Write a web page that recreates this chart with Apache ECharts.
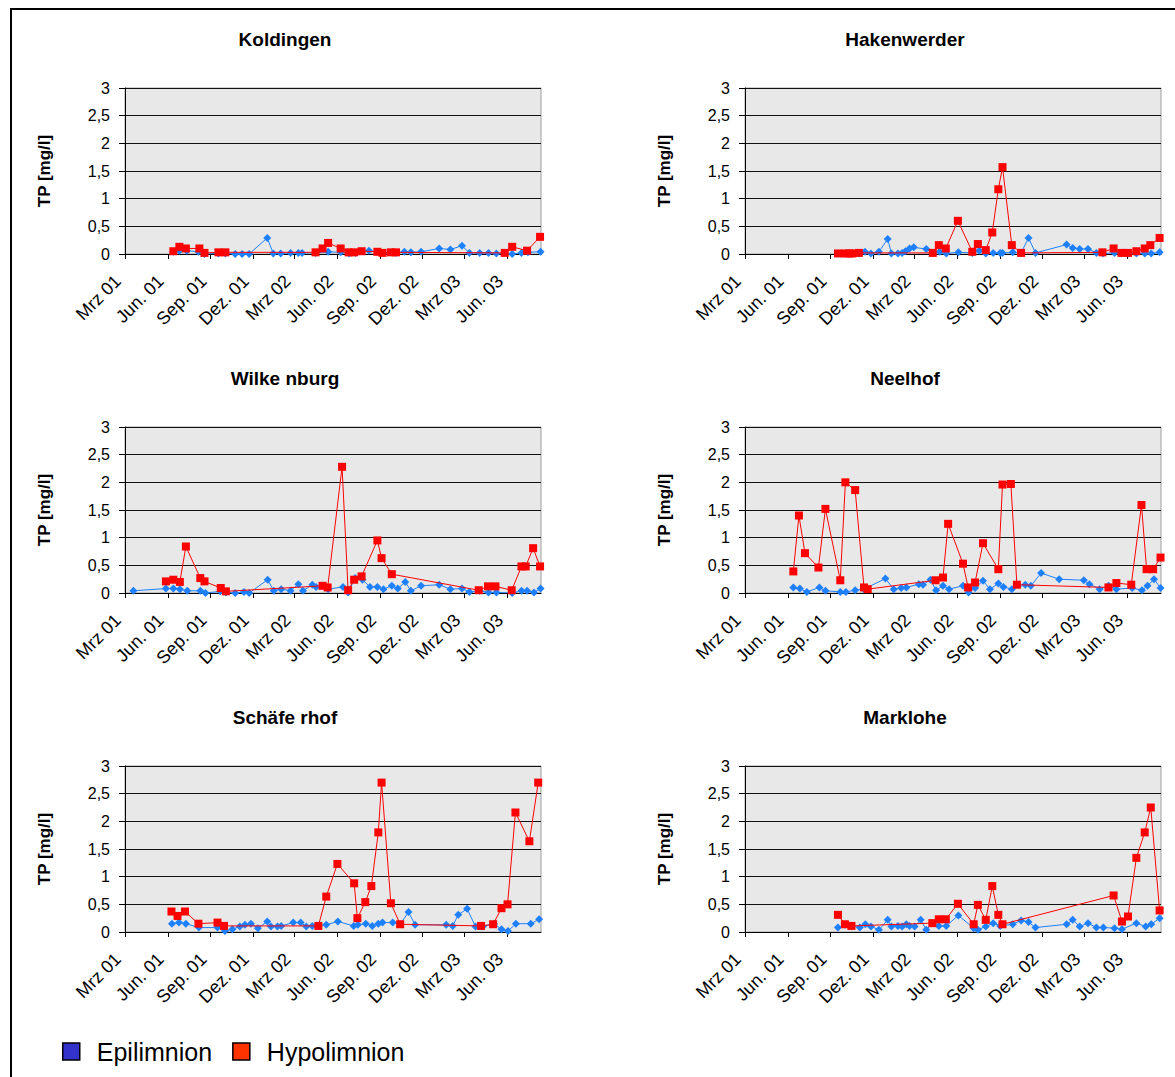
<!DOCTYPE html>
<html>
<head>
<meta charset="utf-8">
<script src="https://cdn.jsdelivr.net/npm/echarts@6/dist/echarts.min.js"></script>
<style>
  html, body { margin: 0; padding: 0; background: #fff; }
  #chart { width: 1175px; height: 1077px; }
</style>
</head>
<body>
<div id="chart"></div>
<script>
// Tick positions on the date axis and their labels
const tickDates = ['2001-03-01', '2001-06-01', '2001-09-01', '2001-12-01', '2002-03-01', '2002-06-01',
  '2002-09-01', '2002-12-01', '2003-03-01', '2003-06-01']
const tickLabels = ['Mrz 01', 'Jun. 01', 'Sep. 01', 'Dez. 01', 'Mrz 02', 'Jun. 02',
  'Sep. 02', 'Dez. 02', 'Mrz 03', 'Jun. 03']
const xMin = '2001-03-01'
const xMax = '2003-08-13'
const yTicks = [0, 0.5, 1, 1.5, 2, 2.5, 3]

// TP [mg/l] per station, [date, value]
const koldingenEpi = [['2001-06-13',0.04],['2001-06-26',0.06],['2001-07-12',0.06],['2001-08-06',0.04],['2001-08-19',0.0],['2001-09-18',0.01],['2001-10-03',0.01],['2001-10-24',0.0],['2001-11-08',0.0],['2001-11-23',0.0],['2002-01-01',0.29],['2002-01-14',0.01],['2002-01-30',0.01],['2002-02-20',0.02],['2002-03-09',0.02],['2002-03-17',0.02],['2002-04-15',0.02],['2002-05-12',0.04],['2002-06-08',0.03],['2002-06-26',0.01],['2002-07-10',0.02],['2002-08-08',0.06],['2002-09-06',0.02],['2002-10-05',0.02],['2002-10-23',0.04],['2002-11-06',0.03],['2002-11-28',0.04],['2003-01-06',0.1],['2003-01-30',0.08],['2003-02-24',0.15],['2003-03-12',0.02],['2003-04-03',0.02],['2003-04-22',0.02],['2003-05-09',0.01],['2003-06-12',0.0],['2003-07-02',0.02],['2003-07-16',0.03],['2003-08-12',0.04]]
const koldingenHypo = [['2001-06-13',0.05],['2001-06-26',0.13],['2001-07-10',0.1],['2001-08-08',0.1],['2001-08-19',0.02],['2001-09-18',0.03],['2001-10-03',0.03],['2002-04-15',0.03],['2002-04-30',0.1],['2002-05-12',0.2],['2002-06-08',0.1],['2002-06-25',0.03],['2002-07-07',0.03],['2002-07-23',0.05],['2002-08-26',0.04],['2002-09-06',0.02],['2002-09-24',0.03],['2002-10-05',0.03],['2003-05-27',0.02],['2003-06-12',0.13],['2003-07-14',0.06],['2003-08-11',0.31]]

const hakenwerderEpi = [['2001-09-17',0.01],['2001-10-02',0.01],['2001-10-18',0.01],['2001-11-01',0.01],['2001-11-14',0.04],['2001-11-27',0.01],['2001-12-14',0.04],['2002-01-02',0.27],['2002-01-10',0.01],['2002-01-24',0.01],['2002-02-02',0.02],['2002-02-09',0.05],['2002-02-18',0.1],['2002-02-27',0.12],['2002-03-26',0.09],['2002-04-09',0.02],['2002-04-24',0.04],['2002-05-08',0.01],['2002-06-03',0.03],['2002-07-03',0.02],['2002-07-18',0.06],['2002-08-01',0.01],['2002-08-17',0.02],['2002-09-01',0.02],['2002-09-06',0.02],['2002-09-28',0.03],['2002-10-16',0.02],['2002-11-01',0.29],['2002-11-16',0.02],['2003-01-22',0.17],['2003-02-04',0.11],['2003-02-19',0.09],['2003-03-09',0.09],['2003-03-27',0.02],['2003-04-10',0.01],['2003-05-05',0.02],['2003-05-20',0.01],['2003-06-03',0.01],['2003-06-21',0.01],['2003-07-09',0.01],['2003-07-23',0.01],['2003-08-10',0.03]]
const hakenwerderHypo = [['2001-09-17',0.01],['2001-10-02',0.01],['2001-10-11',0.01],['2001-10-18',0.01],['2001-11-01',0.02],['2002-04-09',0.02],['2002-04-22',0.16],['2002-05-07',0.1],['2002-06-02',0.6],['2002-07-03',0.04],['2002-07-15',0.18],['2002-08-01',0.07],['2002-08-15',0.39],['2002-08-28',1.17],['2002-09-06',1.57],['2002-09-26',0.16],['2002-10-16',0.02],['2003-04-09',0.03],['2003-05-03',0.1],['2003-05-20',0.02],['2003-06-03',0.02],['2003-06-21',0.05],['2003-07-09',0.1],['2003-07-21',0.16],['2003-08-10',0.29]]

const wilkenburgEpi = [['2001-03-19',0.04],['2001-05-28',0.08],['2001-06-13',0.08],['2001-06-27',0.07],['2001-07-13',0.04],['2001-08-10',0.04],['2001-08-21',0.0],['2001-09-22',0.03],['2001-10-04',0.01],['2001-10-24',0.0],['2001-11-12',0.02],['2001-11-23',0.0],['2002-01-02',0.24],['2002-01-15',0.04],['2002-01-31',0.07],['2002-02-20',0.04],['2002-03-09',0.16],['2002-03-19',0.04],['2002-04-08',0.15],['2002-04-16',0.11],['2002-05-12',0.07],['2002-06-13',0.11],['2002-06-24',0.01],['2002-07-09',0.27],['2002-07-25',0.24],['2002-08-10',0.11],['2002-08-26',0.11],['2002-09-08',0.07],['2002-09-26',0.13],['2002-10-09',0.08],['2002-10-25',0.2],['2002-11-06',0.04],['2002-11-28',0.13],['2003-01-06',0.15],['2003-01-30',0.07],['2003-02-24',0.08],['2003-03-12',0.02],['2003-04-03',0.04],['2003-04-22',0.01],['2003-05-09',0.01],['2003-06-12',0.0],['2003-07-02',0.04],['2003-07-14',0.04],['2003-07-29',0.01],['2003-08-12',0.08]]
const wilkenburgHypo = [['2001-05-28',0.21],['2001-06-13',0.24],['2001-06-27',0.2],['2001-07-10',0.84],['2001-08-10',0.27],['2001-08-19',0.21],['2001-09-23',0.09],['2001-10-04',0.03],['2002-04-30',0.13],['2002-05-11',0.1],['2002-06-11',2.28],['2002-06-24',0.05],['2002-07-07',0.24],['2002-07-23',0.3],['2002-08-26',0.95],['2002-09-04',0.63],['2002-09-26',0.34],['2003-04-01',0.05],['2003-04-21',0.12],['2003-05-07',0.12],['2003-06-11',0.05],['2003-07-02',0.48],['2003-07-11',0.48],['2003-07-27',0.81],['2003-08-11',0.48]]

const neelhofEpi = [['2001-06-13',0.1],['2001-06-27',0.08],['2001-07-12',0.02],['2001-08-08',0.1],['2001-08-21',0.04],['2001-09-22',0.02],['2001-10-04',0.02],['2001-10-24',0.05],['2001-11-12',0.07],['2001-12-28',0.26],['2002-01-15',0.07],['2002-01-31',0.09],['2002-02-11',0.1],['2002-03-10',0.16],['2002-03-19',0.15],['2002-04-04',0.24],['2002-04-16',0.05],['2002-05-01',0.13],['2002-05-14',0.07],['2002-06-13',0.13],['2002-06-25',0.01],['2002-07-09',0.09],['2002-07-26',0.22],['2002-08-10',0.07],['2002-08-28',0.17],['2002-09-08',0.11],['2002-09-26',0.07],['2002-10-25',0.15],['2002-11-06',0.13],['2002-11-28',0.36],['2003-01-06',0.25],['2003-02-28',0.23],['2003-03-12',0.16],['2003-04-03',0.07],['2003-04-22',0.13],['2003-05-09',0.07],['2003-06-12',0.09],['2003-07-03',0.05],['2003-07-15',0.13],['2003-07-29',0.25],['2003-08-12',0.09]]
const neelhofHypo = [['2001-06-13',0.39],['2001-06-25',1.4],['2001-07-08',0.72],['2001-08-06',0.46],['2001-08-21',1.52],['2001-09-22',0.23],['2001-10-03',2.0],['2001-10-24',1.86],['2001-11-12',0.1],['2001-11-20',0.07],['2002-04-15',0.23],['2002-05-01',0.28],['2002-05-12',1.25],['2002-06-13',0.53],['2002-06-24',0.1],['2002-07-09',0.19],['2002-07-26',0.9],['2002-08-28',0.43],['2002-09-06',1.96],['2002-09-24',1.97],['2002-10-07',0.15],['2003-04-22',0.1],['2003-05-09',0.18],['2003-06-10',0.15],['2003-07-02',1.59],['2003-07-13',0.43],['2003-07-27',0.43],['2003-08-12',0.64]]

const schaeferhofEpi = [['2001-06-10',0.15],['2001-06-25',0.17],['2001-07-10',0.15],['2001-08-07',0.08],['2001-09-16',0.08],['2001-10-02',0.02],['2001-10-18',0.05],['2001-11-03',0.1],['2001-11-14',0.13],['2001-11-27',0.15],['2001-12-12',0.07],['2002-01-01',0.19],['2002-01-09',0.1],['2002-01-23',0.1],['2002-01-31',0.11],['2002-02-26',0.17],['2002-03-14',0.17],['2002-03-26',0.1],['2002-04-08',0.11],['2002-04-21',0.11],['2002-05-08',0.13],['2002-06-02',0.19],['2002-07-06',0.11],['2002-07-15',0.13],['2002-08-01',0.15],['2002-08-15',0.11],['2002-08-28',0.15],['2002-09-06',0.17],['2002-09-28',0.17],['2002-10-14',0.14],['2002-11-01',0.36],['2002-11-15',0.13],['2003-01-21',0.13],['2003-02-04',0.11],['2003-02-16',0.31],['2003-03-07',0.42],['2003-03-25',0.1],['2003-04-10',0.1],['2003-05-04',0.15],['2003-05-20',0.05],['2003-06-03',0.02],['2003-06-20',0.15],['2003-07-22',0.15],['2003-08-09',0.23]]
const schaeferhofHypo = [['2001-06-09',0.37],['2001-06-22',0.29],['2001-07-08',0.37],['2001-08-06',0.15],['2001-09-16',0.17],['2001-09-30',0.11],['2002-04-21',0.11],['2002-05-08',0.64],['2002-06-01',1.23],['2002-07-07',0.88],['2002-07-14',0.25],['2002-07-31',0.54],['2002-08-13',0.83],['2002-08-28',1.8],['2002-09-04',2.7],['2002-09-24',0.52],['2002-10-14',0.14],['2003-04-06',0.11],['2003-05-02',0.14],['2003-05-20',0.43],['2003-06-02',0.5],['2003-06-19',2.16],['2003-07-19',1.64],['2003-08-07',2.7]]

const markloheEpi = [['2001-09-17',0.08],['2001-10-02',0.13],['2001-10-16',0.11],['2001-11-03',0.08],['2001-11-15',0.14],['2001-11-27',0.1],['2001-12-14',0.04],['2002-01-02',0.22],['2002-01-10',0.1],['2002-01-24',0.11],['2002-02-02',0.1],['2002-02-11',0.14],['2002-02-18',0.11],['2002-03-01',0.1],['2002-03-14',0.22],['2002-03-26',0.04],['2002-04-09',0.16],['2002-04-22',0.11],['2002-05-08',0.11],['2002-06-03',0.3],['2002-07-06',0.07],['2002-07-15',0.04],['2002-08-01',0.1],['2002-08-17',0.16],['2002-09-01',0.11],['2002-09-28',0.14],['2002-10-16',0.21],['2002-11-01',0.18],['2002-11-16',0.08],['2003-01-22',0.14],['2003-02-04',0.22],['2003-02-19',0.1],['2003-03-09',0.16],['2003-03-27',0.08],['2003-04-11',0.08],['2003-05-05',0.07],['2003-05-21',0.05],['2003-06-21',0.16],['2003-07-11',0.1],['2003-07-23',0.14],['2003-08-10',0.25]]
const markloheHypo = [['2001-09-17',0.31],['2001-10-02',0.14],['2001-10-16',0.11],['2002-04-08',0.16],['2002-04-22',0.23],['2002-05-07',0.23],['2002-06-02',0.51],['2002-07-06',0.14],['2002-07-15',0.49],['2002-08-01',0.22],['2002-08-15',0.83],['2002-08-28',0.31],['2002-09-06',0.14],['2003-05-03',0.66],['2003-05-21',0.19],['2003-06-03',0.28],['2003-06-21',1.34],['2003-07-09',1.8],['2003-07-22',2.25],['2003-08-10',0.39]]

const stationNames = ['Koldingen', 'Hakenwerder', 'Wilke nburg', 'Neelhof', 'Schäfe rhof', 'Marklohe']
const epiData = [koldingenEpi, hakenwerderEpi, wilkenburgEpi, neelhofEpi, schaeferhofEpi, markloheEpi]
const hypoData = [koldingenHypo, hakenwerderHypo, wilkenburgHypo, neelhofHypo, schaeferhofHypo, markloheHypo]

const font = 'Liberation Sans, Arial, sans-serif'
const colLeft = [125, 745]
const rowTop = [88, 427, 766]
const plotW = 416
const plotH = 166

// date string -> ms (UTC), used as the x value on a numeric axis
function toTime(s) {
  const p = s.split('-')
  return Date.UTC(+p[0], +p[1] - 1, +p[2])
}
const tickTimes = tickDates.map(toTime)
const toPoints = arr => arr.map(d => [toTime(d[0]), d[1]])

const myChart = echarts.init(document.getElementById('chart'), null, { renderer: 'svg' })

const grid = []
const xAxis = []
const yAxis = []
const series = []
const graphic = [
  {
    type: 'rect',
    silent: true,
    shape: { x: 11, y: 9, width: 1400, height: 1400 },
    style: { fill: 'none', stroke: '#000', lineWidth: 2 }
  }
]

stationNames.forEach((name, i) => {
  const left = colLeft[i % 2]
  const top = rowTop[Math.floor(i / 2)]
  grid.push({
    left,
    top,
    width: plotW,
    height: plotH,
    show: true,
    backgroundColor: '#e8e8e8',
    borderColor: '#a0a0a0',
    borderWidth: 1,
    containLabel: false,
    outerBoundsMode: 'none'
  })
  xAxis.push({
    gridIndex: i,
    type: 'value',
    min: toTime(xMin),
    max: toTime(xMax),
    axisLine: { show: true, onZero: false, lineStyle: { color: '#000', width: 1 } },
    axisTick: { show: true, length: 5, lineStyle: { color: '#000' }, customValues: tickTimes },
    axisLabel: {
      rotate: 45,
      fontSize: 18,
      fontFamily: font,
      color: '#000',
      margin: 17,
      padding: [0, 10, 0, 0],
      customValues: tickTimes,
      formatter: v => {
        const k = tickTimes.indexOf(v)
        return k >= 0 ? tickLabels[k] : ''
      }
    },
    splitLine: { show: false }
  })
  yAxis.push({
    gridIndex: i,
    type: 'value',
    min: yTicks[0],
    max: yTicks[yTicks.length - 1],
    interval: 0.5,
    name: 'TP [mg/l]',
    nameLocation: 'middle',
    nameGap: 72,
    nameTextStyle: { fontWeight: 'bold', fontSize: 17, fontFamily: font, color: '#000' },
    axisLine: { show: true, lineStyle: { color: '#000', width: 1 } },
    axisTick: { show: true, length: 6, lineStyle: { color: '#000' } },
    axisLabel: {
      fontSize: 16,
      fontFamily: font,
      color: '#000',
      margin: 15,
      formatter: v => String(v).replace('.', ',')
    },
    splitLine: { show: true, lineStyle: { color: '#111', width: 1 } }
  })
  series.push({
    name: 'Epilimnion',
    type: 'line',
    xAxisIndex: i,
    yAxisIndex: i,
    data: toPoints(epiData[i]),
    symbol: 'diamond',
    symbolSize: 8,
    showAllSymbol: true,
    lineStyle: { color: '#1e80ff', width: 1 },
    itemStyle: { color: '#1e80ff' },
    z: 2
  })
  series.push({
    name: 'Hypolimnion',
    type: 'line',
    xAxisIndex: i,
    yAxisIndex: i,
    data: toPoints(hypoData[i]),
    symbol: 'rect',
    symbolSize: 8,
    showAllSymbol: true,
    lineStyle: { color: '#ff0000', width: 1 },
    itemStyle: { color: '#ff0000' },
    z: 3
  })
  // Panel title
  graphic.push({
    type: 'text',
    silent: true,
    x: left + plotW / 2 - 48,
    y: top - 49,
    style: {
      text: name,
      fontSize: 19,
      fontWeight: 'bold',
      fontFamily: font,
      fill: '#000',
      align: 'center',
      verticalAlign: 'middle'
    }
  })
})

const option = {
  backgroundColor: '#fff',
  animation: false,
  grid,
  xAxis,
  yAxis,
  series,
  graphic,
  legend: {
    left: 57,
    top: 1034,
    icon: 'rect',
    itemWidth: 17,
    itemHeight: 17,
    itemGap: 20,
    selectedMode: false,
    textStyle: { fontSize: 25, fontFamily: font, color: '#000', padding: [0, 0, 0, 12] },
    data: [
      { name: 'Epilimnion', itemStyle: { color: '#3333cc', borderColor: '#000', borderWidth: 1.5 } },
      { name: 'Hypolimnion', itemStyle: { color: '#ff3300', borderColor: '#000', borderWidth: 1.5 } }
    ]
  }
}

myChart.setOption(option)
</script>
</body>
</html>
